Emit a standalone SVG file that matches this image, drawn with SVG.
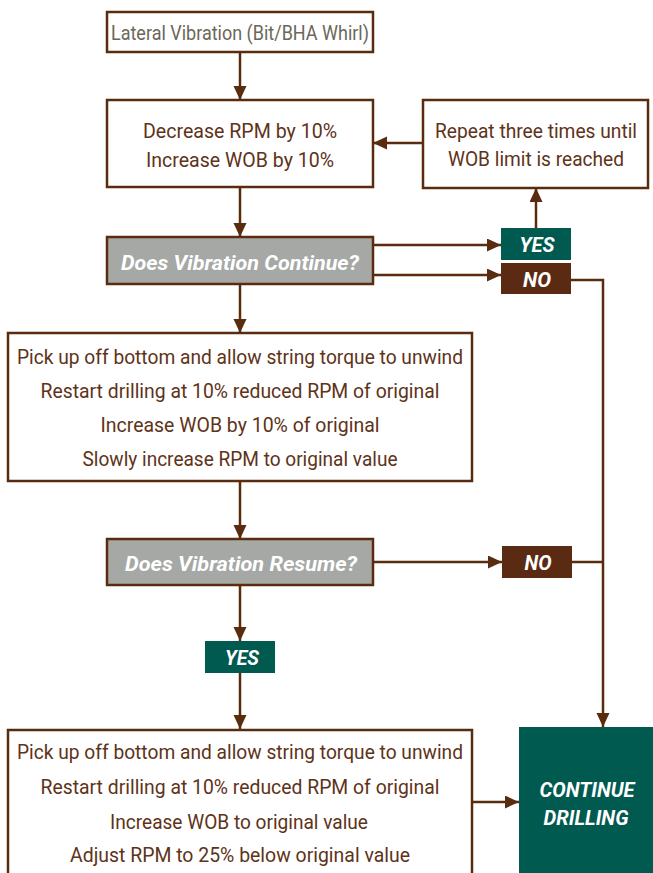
<svg xmlns="http://www.w3.org/2000/svg" width="653" height="873" viewBox="0 0 653 873">
<defs>
<marker id="ah" markerUnits="userSpaceOnUse" markerWidth="14" markerHeight="14" refX="14" refY="6.5" orient="auto">
<path d="M0,0 L14,6.5 L0,13 z" fill="#5a2c0f"/>
</marker>
<style>
.box{fill:#fff;stroke:#5a2c0f;stroke-width:2.5}
.dec{fill:#a6a8a5;stroke:#5a2c0f;stroke-width:2.5}
.t{font-family:Roboto,"Liberation Sans",sans-serif;font-size:21px;fill:#5e3319;text-anchor:middle}
.w{font-family:Roboto,"Liberation Sans",sans-serif;font-size:21px;font-weight:bold;font-style:italic;fill:#fff;text-anchor:middle}
.g{fill:#005a4f}
.b{fill:#5a2a12}
.c{fill:none;stroke:#5a2c0f;stroke-width:2.5}
.a{marker-end:url(#ah)}
</style>
</defs>
<rect width="653" height="873" fill="#fff"/>
<g id="connectors">
<path class="c a" d="M240,52 V100"/>
<path class="c a" d="M423,143 H373"/>
<path class="c a" d="M240,187 V237"/>
<path class="c a" d="M373,245 H501"/>
<path class="c a" d="M373,275 H501"/>
<path class="c a" d="M536,228 V188"/>
<path class="c a" d="M571,280 H603 V727"/>
<path class="c a" d="M240,284 V333"/>
<path class="c a" d="M240,481 V539"/>
<path class="c a" d="M373,562 H502"/>
<path class="c" d="M572,562 H603"/>
<path class="c a" d="M240,585 V641"/>
<path class="c a" d="M240,673 V729"/>
<path class="c a" d="M472,802 H519"/>
</g>
<g id="start">
<rect class="box" x="107" y="12" width="266" height="40"/>
<text class="t" x="240" y="40" style="fill:#6b675a" textLength="258" lengthAdjust="spacingAndGlyphs">Lateral Vibration (Bit/BHA Whirl)</text>
</g>
<g id="decrease">
<rect class="box" x="107" y="100" width="266" height="87"/>
<text class="t" x="240" y="138" textLength="194" lengthAdjust="spacingAndGlyphs">Decrease RPM by 10%</text>
<text class="t" x="240" y="167" textLength="188" lengthAdjust="spacingAndGlyphs">Increase WOB by 10%</text>
</g>
<g id="repeat">
<rect class="box" x="423" y="100" width="225" height="88"/>
<text class="t" x="536" y="138" style="font-size:19.5px" textLength="202" lengthAdjust="spacingAndGlyphs">Repeat three times until</text>
<text class="t" x="536" y="166" style="font-size:19.5px" textLength="176" lengthAdjust="spacingAndGlyphs">WOB limit is reached</text>
</g>
<g id="decision1">
<rect class="dec" x="107" y="237" width="266" height="47"/>
<text class="w" x="240" y="270" textLength="238" lengthAdjust="spacingAndGlyphs">Does Vibration Continue?</text>
</g>
<g id="yes1">
<rect class="g" x="501" y="228" width="70" height="32"/>
<text class="w" x="537" y="252" textLength="35" lengthAdjust="spacingAndGlyphs">YES</text>
</g>
<g id="no1">
<rect class="b" x="501" y="263" width="70" height="31"/>
<text class="w" x="537" y="287" textLength="28" lengthAdjust="spacingAndGlyphs">NO</text>
</g>
<g id="pickup1">
<rect class="box" x="8" y="333" width="464" height="148"/>
<text class="t" x="240" y="364" textLength="446" lengthAdjust="spacingAndGlyphs">Pick up off bottom and allow string torque to unwind</text>
<text class="t" x="240" y="398" textLength="399" lengthAdjust="spacingAndGlyphs">Restart drilling at 10% reduced RPM of original</text>
<text class="t" x="240" y="432" textLength="279" lengthAdjust="spacingAndGlyphs">Increase WOB by 10% of original</text>
<text class="t" x="240" y="466" textLength="315" lengthAdjust="spacingAndGlyphs">Slowly increase RPM to original value</text>
</g>
<g id="decision2">
<rect class="dec" x="107" y="539" width="266" height="46"/>
<text class="w" x="241" y="571" textLength="232" lengthAdjust="spacingAndGlyphs">Does Vibration Resume?</text>
</g>
<g id="no2">
<rect class="b" x="502" y="546" width="70" height="32"/>
<text class="w" x="538" y="570" textLength="27" lengthAdjust="spacingAndGlyphs">NO</text>
</g>
<g id="yes2">
<rect class="g" x="205" y="641" width="70" height="32"/>
<text class="w" x="242" y="665" textLength="34" lengthAdjust="spacingAndGlyphs">YES</text>
</g>
<g id="pickup2">
<rect class="box" x="8" y="730" width="464" height="160"/>
<text class="t" x="240" y="759" textLength="446" lengthAdjust="spacingAndGlyphs">Pick up off bottom and allow string torque to unwind</text>
<text class="t" x="240" y="794" textLength="399" lengthAdjust="spacingAndGlyphs">Restart drilling at 10% reduced RPM of original</text>
<text class="t" x="239" y="829" textLength="258" lengthAdjust="spacingAndGlyphs">Increase WOB to original value</text>
<text class="t" x="240" y="862" textLength="340" lengthAdjust="spacingAndGlyphs">Adjust RPM to 25% below original value</text>
</g>
<g id="continue">
<rect class="g" x="519" y="727" width="140" height="160"/>
<text class="w" x="587" y="797" textLength="95" lengthAdjust="spacingAndGlyphs">CONTINUE</text>
<text class="w" x="586" y="825" textLength="85" lengthAdjust="spacingAndGlyphs">DRILLING</text>
</g>
</svg>
